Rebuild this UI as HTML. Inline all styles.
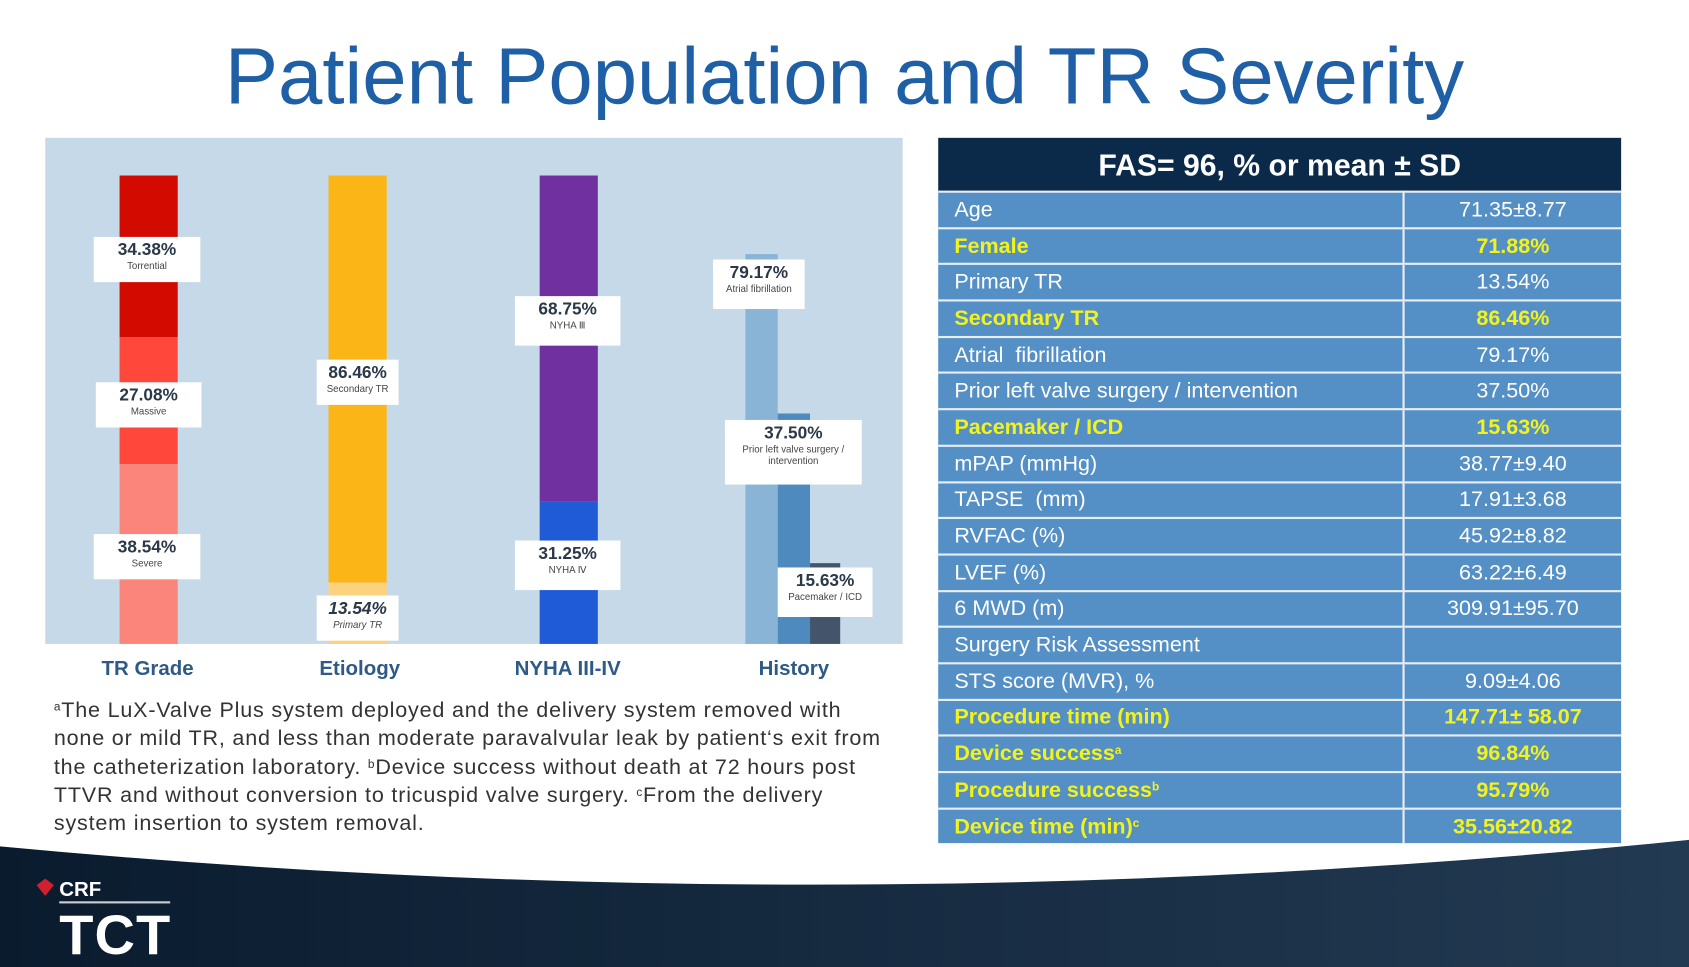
<!DOCTYPE html>
<html><head><meta charset="utf-8"><style>
html,body{margin:0;padding:0;background:#fff;overflow:hidden}
#s{position:relative;width:1568px;height:898px;transform:scale(1.07717,1.0768);transform-origin:0 0;font-family:"Liberation Sans",sans-serif}
.a{position:absolute}
sup{font-size:11px;line-height:0;vertical-align:6px}
.lb{position:absolute;background:#fff;text-align:center;color:#2a3848;font-weight:bold;font-size:16px;line-height:18px;padding-top:4px}
.lb small{display:block;font-weight:normal;font-size:9px;line-height:11px;color:#444}
.ax{position:absolute;top:611px;font-size:19px;font-weight:bold;color:#2e5a87;transform:translateX(-50%);white-space:nowrap}
.fn{position:absolute;left:50px;top:647px;font-size:20px;line-height:26.3px;color:#333;width:800px;letter-spacing:0.75px;white-space:nowrap}
table{position:absolute;left:871px;top:128px;width:634px;border-collapse:collapse;font-size:20px}
td{background:#5490c6;color:#fff;height:31.7px;padding:0 0 0 15px;border-top:2px solid #e8eef5;border-right:2px solid #e8eef5;line-height:28px}
td+td{text-align:center;padding:0;border-right:none}
tr.y td{color:#f2f21e;font-weight:bold}
th{background:#0b2a4a;color:#fff;font-size:28px;height:44px;font-weight:bold;padding-top:4px}
</style></head><body><div id="s">
<div class="a" style="left:0;top:28px;width:1568px;text-align:center;font-size:74px;color:#1f5fa6">Patient Population and TR Severity</div>
<div class="a" style="left:42px;top:128px;width:796px;height:470px;background:#c6d9e8"></div>
<div class="a" style="left:111px;top:163px;width:54px;height:150px;background:#d20a00"></div>
<div class="a" style="left:111px;top:313px;width:54px;height:118px;background:#ff473c"></div>
<div class="a" style="left:111px;top:431px;width:54px;height:167px;background:#fb857b"></div>
<div class="a" style="left:305px;top:163px;width:54px;height:378px;background:#fbb516"></div>
<div class="a" style="left:305px;top:541px;width:54px;height:57px;background:#fdd27f"></div>
<div class="a" style="left:501px;top:163px;width:54px;height:303px;background:#7030a0"></div>
<div class="a" style="left:501px;top:466px;width:54px;height:132px;background:#1f5bd6"></div>
<div class="a" style="left:692px;top:236px;width:30px;height:362px;background:#8ab4d5"></div>
<div class="a" style="left:722px;top:384px;width:30px;height:214px;background:#4f8abf"></div>
<div class="a" style="left:752px;top:523px;width:28px;height:75px;background:#44546a"></div>
<div class="lb" style="left:87px;top:220px;width:99px;height:38px">34.38%<small>Torrential</small></div>
<div class="lb" style="left:89px;top:355px;width:98px;height:38px">27.08%<small>Massive</small></div>
<div class="lb" style="left:87px;top:496px;width:99px;height:38px">38.54%<small>Severe</small></div>
<div class="lb" style="left:294px;top:334px;width:76px;height:38px">86.46%<small>Secondary TR</small></div>
<div class="lb" style="left:294px;top:553px;width:76px;height:38px;font-style:italic">13.54%<small style="font-style:italic">Primary TR</small></div>
<div class="lb" style="left:478px;top:275px;width:98px;height:42px">68.75%<small>NYHA Ⅲ</small></div>
<div class="lb" style="left:478px;top:502px;width:98px;height:42px">31.25%<small>NYHA Ⅳ</small></div>
<div class="lb" style="left:662px;top:241px;width:85px;height:42px">79.17%<small>Atrial fibrillation</small></div>
<div class="lb" style="left:673px;top:390px;width:127px;height:56px">37.50%<small>Prior left valve surgery /<br>intervention</small></div>
<div class="lb" style="left:722px;top:527px;width:88px;height:42px">15.63%<small>Pacemaker / ICD</small></div>
<div class="ax" style="left:137px">TR Grade</div>
<div class="ax" style="left:334px">Etiology</div>
<div class="ax" style="left:527px">NYHA III-IV</div>
<div class="ax" style="left:737px">History</div>
<div class="fn"><sup>a</sup>The LuX-Valve Plus system deployed and the delivery system removed with<br>none or mild TR, and less than moderate paravalvular leak by patient‘s exit from<br>the catheterization laboratory. <sup>b</sup>Device success without death at 72 hours post<br>TTVR and without conversion to tricuspid valve surgery. <sup>c</sup>From the delivery<br>system insertion to system removal.</div>
<table>
<tr><th colspan="2">FAS= 96, % or mean ± SD</th></tr>
<tr><td style="width:416px">Age</td><td>71.35±8.77</td></tr>
<tr class="y"><td>Female</td><td>71.88%</td></tr>
<tr><td>Primary TR</td><td>13.54%</td></tr>
<tr class="y"><td>Secondary TR</td><td>86.46%</td></tr>
<tr><td>Atrial &nbsp;fibrillation</td><td>79.17%</td></tr>
<tr><td>Prior left valve surgery / intervention</td><td>37.50%</td></tr>
<tr class="y"><td>Pacemaker / ICD</td><td>15.63%</td></tr>
<tr><td>mPAP (mmHg)</td><td>38.77±9.40</td></tr>
<tr><td>TAPSE &nbsp;(mm)</td><td>17.91±3.68</td></tr>
<tr><td>RVFAC (%)</td><td>45.92±8.82</td></tr>
<tr><td>LVEF (%)</td><td>63.22±6.49</td></tr>
<tr><td>6 MWD (m)</td><td>309.91±95.70</td></tr>
<tr><td>Surgery Risk Assessment</td><td></td></tr>
<tr><td>STS score (MVR), %</td><td>9.09±4.06</td></tr>
<tr class="y"><td>Procedure time (min)</td><td>147.71± 58.07</td></tr>
<tr class="y"><td>Device success<sup>a</sup></td><td>96.84%</td></tr>
<tr class="y"><td>Procedure success<sup>b</sup></td><td>95.79%</td></tr>
<tr class="y"><td>Device time (min)<sup>c</sup></td><td>35.56±20.82</td></tr>
</table>
<svg class="a" style="left:0;top:770px" width="1568" height="128">
<defs><linearGradient id="g" x1="0" x2="1"><stop offset="0" stop-color="#0a1b2e"/><stop offset="1" stop-color="#223a52"/></linearGradient></defs>
<path d="M0 16 Q784 90 1568 10 L1568 128 L0 128Z" fill="url(#g)"/>
<text x="55" y="62" fill="#fff" font-size="19" font-weight="bold" font-family="Liberation Sans">CRF</text>
<path d="M34 52 l8 -6 l8 6 l-8 10z" fill="#d3202f"/>
<rect x="55" y="67" width="103" height="2" fill="#ccc"/>
<text x="55" y="116" fill="#fff" font-size="52" font-weight="bold" font-family="Liberation Sans" textLength="103">TCT</text>
</svg>
</div></body></html>
